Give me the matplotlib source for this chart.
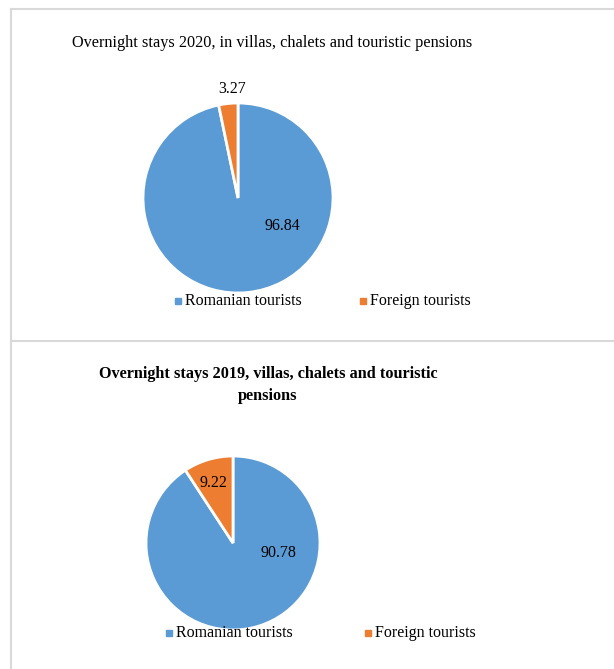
import matplotlib.pyplot as plt
from matplotlib.lines import Line2D
from matplotlib.patches import Rectangle

plt.rcParams['font.family'] = ['Liberation Serif', 'DejaVu Serif']

categories = ['Romanian tourists', 'Foreign tourists']
colors = ['#5B9BD5', '#ED7D31']
shares_2020 = [96.84, 3.27]
shares_2019 = [90.78, 9.22]
title_2020 = 'Overnight stays 2020, in villas, chalets and touristic pensions'
title_2019 = 'Overnight stays 2019, villas, chalets and touristic\npensions'

W, H = 614, 669
fig = plt.figure(figsize=(W / 100, H / 100), dpi=100)


def px_axes(x0, y0, x1, y1):
    # axes box given in pixel coordinates, origin top-left
    return fig.add_axes([x0 / W, 1 - y1 / H, (x1 - x0) / W, (y1 - y0) / H])


def fx(x):
    return x / W


def fy(y):
    return 1 - y / H


# panel frames
frame = dict(color='#D9D9D9', lw=1.5, transform=fig.transFigure)
fig.add_artist(Line2D([fx(11), fx(11)], [fy(9), fy(669)], **frame))
fig.add_artist(Line2D([fx(11), fx(614)], [fy(9), fy(9)], **frame))
fig.add_artist(Line2D([fx(11), fx(614)], [fy(341), fy(341)], **frame))


def draw_pie(box, values, label_pos):
    ax = px_axes(*box)
    wedges, _ = ax.pie(values, colors=colors, startangle=90, counterclock=False,
                       wedgeprops=dict(edgecolor='white', linewidth=2))
    ax.set_xlim(-1, 1)
    ax.set_ylim(-1, 1)
    for v, (lx, ly) in zip(values, label_pos):
        fig.text(fx(lx), fy(ly), f'{v:.2f}', ha='center', va='center', fontsize=11.5)
    return ax


def draw_legend(y, positions):
    for c, name, x in zip(colors, categories, positions):
        fig.add_artist(Rectangle((fx(x - 3), fy(y + 3)), 6 / W, 6 / H, color=c,
                                 transform=fig.transFigure))
        fig.text(fx(x + 7), fy(y), name, ha='left', va='center', fontsize=11.5)


# 2020 panel
fig.text(fx(272), fy(43), title_2020, ha='center', va='center', fontsize=11.7)
draw_pie((143, 103, 333, 293), shares_2020, [(282, 226), (232, 89)])
draw_legend(301, [178, 363])

# 2019 panel
fig.text(fx(268), fy(385), title_2019, ha='center', va='center', fontsize=11.7,
         fontweight='bold', linespacing=1.45)
draw_pie((146, 456, 320, 630), shares_2019, [(278, 553), (213, 483)])
draw_legend(633, [169, 368])

fig.savefig('out.png', dpi=100)
